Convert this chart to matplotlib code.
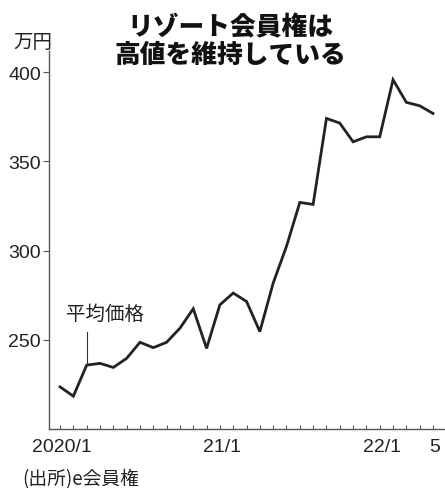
import matplotlib.pyplot as plt

# monthly average price of resort memberships, 2020/1 - 2022/5 (10k yen)
months = list(range(29))
avg_price = [223.6, 218.4, 235.8, 236.8, 234.5, 239.6, 248.6, 245.6, 248.6, 256.5,
             267.4, 245.2, 269.6, 276.2, 271.5, 254.6, 281.8, 302.4, 327.0, 325.9,
             374.1, 371.5, 361.0, 363.8, 363.8, 395.8, 383.1, 381.2, 376.9]
x_label_pos = [0, 12, 24, 28]
x_labels = ['2020/1', '21/1', '22/1', '5']
y_ticks = [250, 300, 350, 400]

jp = ['Noto Sans CJK JP', 'DejaVu Sans']
num = ['Liberation Sans', 'DejaVu Sans']
plt.rcParams['font.family'] = jp

fig = plt.figure(figsize=(4.45, 4.89), dpi=100)
ax = fig.add_axes([0.111, 0.1207, 0.889, 0.7733])

ax.plot(months, avg_price, color='#222222', lw=2.0, solid_joinstyle='miter')

ax.set_xlim(-0.8, 28.9)
ax.set_ylim(200, 412)

ax.set_xticks(months)
ax.set_xticklabels(['' for m in months])
for p, lab in zip(x_label_pos, x_labels):
    ax.text(p + 0.15, 195, lab, transform=ax.transData, ha='center', va='top',
            fontsize=14, family=num, color='#222222')
ax.tick_params(axis='x', direction='in', length=3, width=0.8, colors='#555555')

ax.set_yticks(y_ticks)
ax.set_yticklabels([str(v) for v in y_ticks], family=num, fontsize=14, color='#222222')
ax.tick_params(axis='y', direction='out', length=4, width=0.8, pad=2, colors='#555555',
               labelcolor='#222222')

for s in ['top', 'right']:
    ax.spines[s].set_visible(False)
for s in ['left', 'bottom']:
    ax.spines[s].set_color('#555555')
    ax.spines[s].set_linewidth(1.0)

# annotation
ax.plot([2, 2], [254.5, avg_price[2]], color='#333333', lw=0.8)
ax.text(0.45, 264.5, '平均価格', fontsize=14, va='center', ha='left', color='#222222')

fig.text(0.517, 1 - 27 / 489, 'リゾート会員権は', fontsize=18.5, fontweight='heavy',
         ha='center', va='center', color='#111111')
fig.text(0.517, 1 - 55 / 489, '高値を維持している', fontsize=18.5, fontweight='heavy',
         ha='center', va='center', color='#111111')
fig.text(33 / 445, 1 - 43 / 489, '万円', fontsize=14, ha='center', va='center', color='#222222')
fig.text(22 / 445, 1 - 480 / 489, '(出所)e会員権', fontsize=13.5, ha='left', va='center',
         color='#222222')

fig.savefig('out.png', dpi=100)
